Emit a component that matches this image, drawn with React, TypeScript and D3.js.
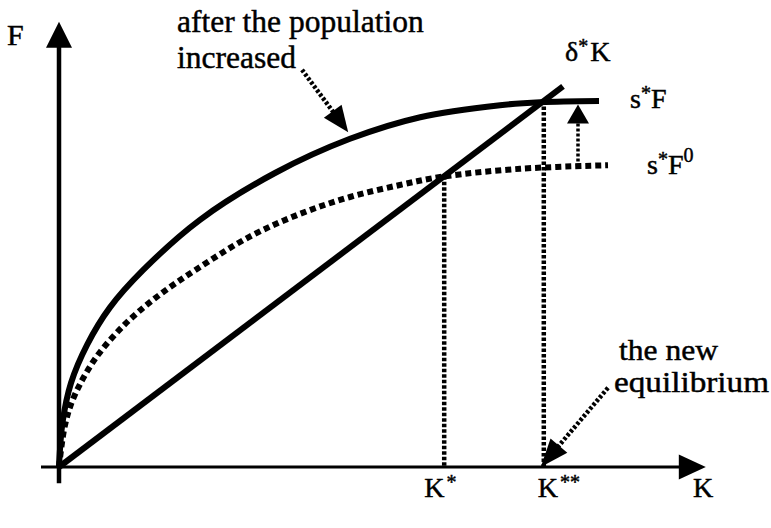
import React from 'react';
import * as d3 from 'd3';

const W = 771;
const H = 528;

// Savings curve after the population increase, s*F, as (K, F) pairs
const sFCurve: [number, number][] = [
  [0, 0], [0.06, 0.75], [0.2, 1.4], [0.47, 2.04], [0.85, 2.66], [1.4, 3.28],
  [2.35, 4.12], [3.6, 4.9], [4.85, 5.47], [6.02, 5.83], [7.35, 6.03], [8.02, 6.08], [9.0, 6.1],
];

// Savings curve before the increase, s*F⁰
const sF0Curve: [number, number][] = [
  [0, 0], [0.1, 0.7], [0.25, 1.17], [0.6, 1.8], [1.1, 2.38], [1.65, 2.85],
  [2.3, 3.3], [3.18, 3.84], [4.02, 4.22], [4.85, 4.5], [5.68, 4.7], [6.4, 4.84],
  [7.68, 4.97], [9.15, 5.03],
];

// Depreciation line δ*K
const delta = 0.755;
const deltaKEnd = 8.4;

// Equilibria and the shift marker
const kStar = 6.42;
const kStarStar = 8.08;
const shiftK = 8.65;

// Axis extents (K, F units)
const kAxis = [-0.3, 10.78];
const fAxis = [-0.27, 7.42];

// Annotation arrows: [from, tip]
const popArrow: [number, number][] = [[4.05, 6.62], [4.82, 5.58]];
const eqArrow: [number, number][] = [[9.15, 1.32], [8.03, 0.0]];

// Text
const axisNames = ['F', 'K'];
const equilibriumTicks = [
  { k: kStar, base: 'K', sup: '*', dx: -20 },
  { k: kStarStar, base: 'K', sup: '**', dx: -6 },
];
const popNote = ['after the population', 'increased'];
const eqNote = ['the new', 'equilibrium'];

const x = d3.scaleLinear().domain([0, 11]).range([59, 719]);
const y = d3.scaleLinear().domain([0, 7]).range([467, 47]);

const lineGen = d3
  .line<[number, number]>()
  .x((d) => x(d[0]))
  .y((d) => y(d[1]))
  .curve(d3.curveCatmullRom.alpha(0.5));

const straight = d3
  .line<[number, number]>()
  .x((d) => x(d[0]))
  .y((d) => y(d[1]));

function valueAt(curve: [number, number][], k: number): number {
  const ks = curve.map((d) => d[0]);
  const fs = curve.map((d) => d[1]);
  return d3.scaleLinear().domain(ks).range(fs)(k);
}

// Triangle head with its tip at (tx, ty), pointing away from (fx, fy)
function head(fx: number, fy: number, tx: number, ty: number, len: number, half: number) {
  const dx = tx - fx;
  const dy = ty - fy;
  const l = Math.hypot(dx, dy);
  const ux = dx / l;
  const uy = dy / l;
  const bx = tx - ux * len;
  const by = ty - uy * len;
  const px = -uy * half;
  const py = ux * half;
  return `${tx},${ty} ${bx + px},${by + py} ${bx - px},${by - py}`;
}

const font = "'Liberation Serif', 'Times New Roman', serif";

export default function App() {
  const ox = x(0);
  const oy = y(0);

  const yTip = y(fAxis[1]);
  const xTip = x(kAxis[1]);

  const fShift0 = valueAt(sF0Curve, shiftK);
  const fShift1 = valueAt(sFCurve, shiftK);

  const popFrom = [x(popArrow[0][0]), y(popArrow[0][1])];
  const popTip = [x(popArrow[1][0]), y(popArrow[1][1])];
  const eqFrom = [x(eqArrow[0][0]), y(eqArrow[0][1])];
  const eqTip = [x(eqArrow[1][0]), y(eqArrow[1][1])];

  const shortTo = (f: number[], t: number[], by: number) => {
    const dx = t[0] - f[0];
    const dy = t[1] - f[1];
    const l = Math.hypot(dx, dy);
    return [t[0] - (dx / l) * by, t[1] - (dy / l) * by];
  };
  const popEnd = shortTo(popFrom, popTip, 22);
  const eqEnd = shortTo(eqFrom, eqTip, 24);

  return (
    <svg
      width={W}
      height={H}
      style={{ position: 'absolute', left: 0, top: 0, background: '#fff' }}
      fontFamily={font}
    >
      <rect width={W} height={H} fill="#fff" />

      {/* axes */}
      <line x1={ox} y1={y(fAxis[0])} x2={ox} y2={yTip + 24} stroke="#000" strokeWidth={4.5} />
      <polygon points={`${ox},${yTip} ${ox - 13},${yTip + 26} ${ox + 13},${yTip + 26}`} fill="#000" />
      <line x1={x(kAxis[0])} y1={oy} x2={xTip - 25} y2={oy} stroke="#000" strokeWidth={3} />
      <polygon points={`${xTip},${oy} ${xTip - 27},${oy - 12.5} ${xTip - 27},${oy + 12.5}`} fill="#000" />

      {/* equilibrium drop lines */}
      <line
        x1={x(kStar)} y1={y(delta * kStar)} x2={x(kStar)} y2={oy}
        stroke="#000" strokeWidth={4.5} strokeDasharray="3.5 2"
      />
      <line
        x1={x(kStarStar)} y1={y(delta * kStarStar)} x2={x(kStarStar)} y2={oy}
        stroke="#000" strokeWidth={4.5} strokeDasharray="3.5 2"
      />

      {/* curves */}
      <path d={lineGen(sF0Curve) ?? ''} fill="none" stroke="#000" strokeWidth={6} strokeDasharray="6 4" />
      <path d={lineGen(sFCurve) ?? ''} fill="none" stroke="#000" strokeWidth={6} />
      <path
        d={straight([[0, 0], [deltaKEnd, delta * deltaKEnd]]) ?? ''}
        fill="none" stroke="#000" strokeWidth={6}
      />

      {/* upward shift marker */}
      <line
        x1={x(shiftK)} y1={y(fShift0)} x2={x(shiftK)} y2={y(fShift1) + 18}
        stroke="#000" strokeWidth={3.5} strokeDasharray="3 2"
      />
      <polygon
        points={head(x(shiftK), y(fShift0), x(shiftK), y(fShift1) + 3, 19, 11)}
        fill="#000"
      />

      {/* annotation arrows */}
      <line
        x1={popFrom[0]} y1={popFrom[1]} x2={popEnd[0]} y2={popEnd[1]}
        stroke="#000" strokeWidth={4.5} strokeDasharray="3 2"
      />
      <polygon points={head(popFrom[0], popFrom[1], popTip[0], popTip[1], 26, 11)} fill="#000" />
      <line
        x1={eqFrom[0]} y1={eqFrom[1]} x2={eqEnd[0]} y2={eqEnd[1]}
        stroke="#000" strokeWidth={4.5} strokeDasharray="3 2"
      />
      <polygon points={head(eqFrom[0], eqFrom[1], eqTip[0], eqTip[1], 28, 11)} fill="#000" />

      {/* text */}
      <g fill="#000" stroke="#000" strokeWidth={0.45}>
        <text x={7} y={45} fontSize={30}>{axisNames[0]}</text>
        <text x={693} y={497} fontSize={28}>{axisNames[1]}</text>

        {equilibriumTicks.map((t) => (
          <text key={t.sup} x={x(t.k) + t.dx} y={497} fontSize={28}>
            {t.base}
            <tspan fontSize={20} dy={-8} dx={2}>{t.sup}</tspan>
          </text>
        ))}

        <text x={565} y={61} fontSize={28}>
          δ<tspan fontSize={20} dy={-8}>*</tspan>
          <tspan dy={8} dx={2}>K</tspan>
        </text>
        <text x={630} y={108} fontSize={28}>
          s<tspan fontSize={20} dy={-8}>*</tspan>
          <tspan dy={8}>F</tspan>
        </text>
        <text x={647} y={174} fontSize={28}>
          s<tspan fontSize={20} dy={-8}>*</tspan>
          <tspan dy={8}>F</tspan>
          <tspan fontSize={20} dy={-12}>0</tspan>
        </text>

        {popNote.map((s, i) => (
          <text key={s} x={177} y={32 + i * 36} fontSize={31.5}>{s}</text>
        ))}
        <text x={619} y={360} fontSize={29} textLength={99} lengthAdjust="spacingAndGlyphs">
          {eqNote[0]}
        </text>
        <text x={614} y={392} fontSize={29} textLength={155} lengthAdjust="spacingAndGlyphs">
          {eqNote[1]}
        </text>
      </g>
    </svg>
  );
}
